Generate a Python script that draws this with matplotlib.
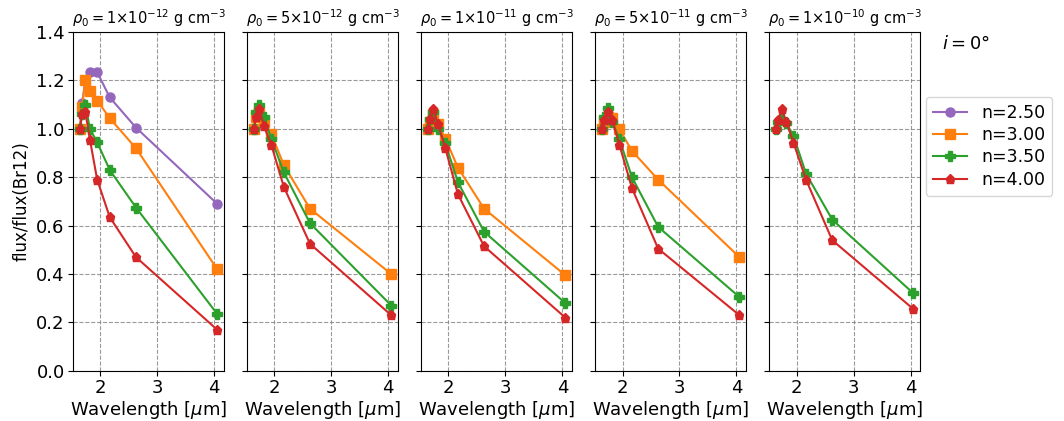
import numpy as np
import matplotlib
matplotlib.use("Agg")
import matplotlib.pyplot as plt

# Brackett line wavelengths (Br12, Br11, Br10, Br9, Br8, Brg, Brb, Bra) in micron
wavelength = [1.6412, 1.6811, 1.7367, 1.8181, 1.9451, 2.1661, 2.6259, 4.0523]

densities = ["1{\\times}10^{-12}", "5{\\times}10^{-12}", "1{\\times}10^{-11}",
             "5{\\times}10^{-11}", "1{\\times}10^{-10}"]
n_values = [2.5, 3.0, 3.5, 4.0]

# flux ratios per panel, per n (None = not plotted)
ratio_n250 = [
    [1.0, 1.105, 1.20, 1.234, 1.234, 1.13, 1.005, 0.69],
    None, None, None, None,
]
ratio_n300 = [
    [1.0, 1.09, 1.20, 1.155, 1.117, 1.044, 0.92, 0.42],
    [1.0, 1.05, 1.07, 1.03, 0.98, 0.85, 0.67, 0.40],
    [1.0, 1.03, 1.06, 1.02, 0.96, 0.84, 0.67, 0.395],
    [1.0, 1.03, 1.05, 1.045, 0.998, 0.909, 0.79, 0.47],
    None,
]
ratio_n350 = [
    [1.0, 1.06, 1.10, 1.0, 0.944, 0.83, 0.675, 0.235],
    [1.0, 1.07, 1.10, 1.05, 0.96, 0.82, 0.61, 0.27],
    [1.0, 1.04, 1.07, 1.0, 0.94, 0.78, 0.575, 0.28],
    [1.0, 1.05, 1.085, 1.03, 0.957, 0.80, 0.595, 0.305],
    [1.0, 1.03, 1.04, 1.025, 0.971, 0.815, 0.625, 0.32],
]
ratio_n400 = [
    [1.0, 1.06, 1.07, 0.955, 0.79, 0.635, 0.47, 0.17],
    [1.0, 1.05, 1.08, 1.01, 0.935, 0.76, 0.525, 0.23],
    [1.0, 1.04, 1.08, 1.02, 0.92, 0.73, 0.515, 0.22],
    [1.0, 1.037, 1.071, 1.037, 0.934, 0.755, 0.505, 0.23],
    [1.0, 1.037, 1.081, 1.03, 0.943, 0.79, 0.54, 0.255],
]

series = [ratio_n250, ratio_n300, ratio_n350, ratio_n400]
colors = ["C4", "C1", "C2", "C3"]
markers = ["o", "s", "P", "p"]

plt.rcParams["font.size"] = 13

fig, axes = plt.subplots(1, 5, figsize=(10.64, 4.21), dpi=100, sharey=True)
fig.subplots_adjust(left=0.0686, right=0.865, bottom=0.119, top=0.924, wspace=0.152)

for k, ax in enumerate(axes):
    for s, data in enumerate(series):
        if data[k] is None:
            continue
        ax.plot(wavelength, data[k], color=colors[s], marker=markers[s],
                markersize=6.5, lw=1.5, label="n=%.2f" % n_values[s])
    ax.set_title(r"$\rho_0 = %s$ g cm$^{-3}$" % densities[k], fontsize=10.5)
    ax.set_xlabel(r"Wavelength [$\mu$m]", labelpad=1)
    ax.grid(True, ls="--", color="gray", alpha=0.8)
    ax.set_xticks([2, 3, 4])
    ax.tick_params(pad=2.5)

axes[0].set_ylim(0, 1.4)
axes[0].set_yticks(np.arange(0, 1.41, 0.2))
axes[0].set_ylabel("flux/flux(Br12)", fontsize=12)

handles, labels = axes[0].get_legend_handles_labels()
fig.legend(handles, labels, loc="upper left", bbox_to_anchor=(0.870, 0.770),
           borderaxespad=0, labelspacing=0.25, fontsize=12.5)
fig.text(0.885, 0.895, r"$i = 0\degree$", fontsize=13, va="center")

plt.savefig("out.png", dpi=100)
